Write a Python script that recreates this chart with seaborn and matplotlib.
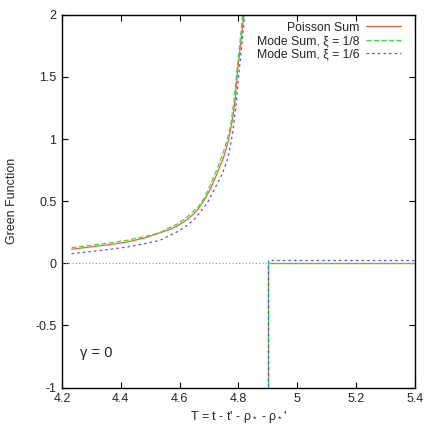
import matplotlib
matplotlib.use("Agg")
import matplotlib.pyplot as plt
import seaborn as sns
import pandas as pd

# ---- data ----
poisson_x = [4.233, 4.30, 4.36, 4.42, 4.48, 4.52, 4.56, 4.59, 4.62, 4.645, 4.664, 4.685, 4.707, 4.73, 4.749, 4.765, 4.777, 4.788, 4.797, 4.808, 4.818, 4.83]
poisson_y = [0.113, 0.133, 0.150, 0.171, 0.203, 0.235, 0.268, 0.298, 0.343, 0.392, 0.44, 0.515, 0.610, 0.74, 0.85, 0.98, 1.12, 1.30, 1.55, 1.78, 2.0, 2.4]

mode8_x = [4.233, 4.30, 4.36, 4.42, 4.48, 4.533, 4.56, 4.59, 4.62, 4.64, 4.664, 4.685, 4.705, 4.727, 4.745, 4.762, 4.774, 4.785, 4.795, 4.805, 4.814, 4.826]
mode8_y = [0.126, 0.146, 0.164, 0.185, 0.215, 0.247, 0.282, 0.314, 0.362, 0.405, 0.458, 0.53, 0.635, 0.76, 0.87, 1.0, 1.12, 1.32, 1.56, 1.78, 2.0, 2.4]

mode6_x = [4.233, 4.30, 4.36, 4.42, 4.48, 4.533, 4.56, 4.59, 4.62, 4.646, 4.664, 4.695, 4.722, 4.745, 4.762, 4.773, 4.782, 4.792, 4.80, 4.811, 4.821, 4.833]
mode6_y = [0.078, 0.095, 0.112, 0.131, 0.158, 0.185, 0.218, 0.252, 0.296, 0.346, 0.395, 0.49, 0.614, 0.72, 0.834, 0.95, 1.084, 1.28, 1.5, 1.75, 2.0, 2.4]

# after the step at T = 4.9
step_x = [4.9, 4.9, 5.4]
poisson_step_y = [-1.5, 0.0, 0.0]
mode8_step_y = [-1.5, 0.0, 0.0]
mode6_step_y = [-1.5, 0.025, 0.025]

labels = ["Poisson Sum", "Mode Sum, ξ = 1/8", "Mode Sum, ξ = 1/6"]
colors = ["#f4603c", "#2ee62e", "#3c5cf4"]
dashes = [None, (4, 2), (2, 2.5)]

sns.set_style("ticks")
plt.rcParams["font.family"] = ["Liberation Sans", "DejaVu Sans"]
plt.rcParams["mathtext.default"] = "regular"
plt.rcParams["xtick.direction"] = "in"
plt.rcParams["ytick.direction"] = "in"

fig = plt.figure(figsize=(4.36, 4.36), dpi=100)
ax = fig.add_axes([0.142, 0.111, 0.810, 0.855])

ax.axhline(0, color="#999999", lw=0.8, ls=(0, (1, 2)), zorder=1)

curves = [(poisson_x, poisson_y, poisson_step_y),
          (mode8_x, mode8_y, mode8_step_y),
          (mode6_x, mode6_y, mode6_step_y)]

for (cx, cy, sy), lab, col, ds in zip(curves, labels, colors, dashes):
    df1 = pd.DataFrame({"T": cx, "G": cy})
    df2 = pd.DataFrame({"T": step_x, "G": sy})
    sns.lineplot(data=df1, x="T", y="G", ax=ax, color=col, lw=0.9,
                 label=lab, sort=False, estimator=None)
    sns.lineplot(data=df2, x="T", y="G", ax=ax, color=col, lw=0.9,
                 sort=False, estimator=None)
    if ds is not None:
        for line in ax.lines[-2:]:
            line.set_dashes(ds)

ax.set_xlim(4.2, 5.4)
ax.set_ylim(-1, 2)
ax.set_xticks([4.2, 4.4, 4.6, 4.8, 5.0, 5.2, 5.4])
ax.set_xticklabels(["4.2", "4.4", "4.6", "4.8", "5", "5.2", "5.4"])
ax.set_yticks([-1, -0.5, 0, 0.5, 1, 1.5, 2])
ax.set_yticklabels(["-1", "-0.5", "0", "0.5", "1", "1.5", "2"])
ax.tick_params(axis="both", which="both", direction="in", top=True, right=True,
               length=4, width=0.8, labelsize=9, color="black", pad=4)
for s in ax.spines.values():
    s.set_color("black")
    s.set_linewidth(1.0)
    s.set_visible(True)

ax.set_xlabel("T = t - t' - ρ$_*$ - ρ$_*$'", fontsize=9, labelpad=3)
ax.set_ylabel("Green Function", fontsize=9, labelpad=12)

ax.text(4.262, -0.72, "γ = 0", fontsize=10.5, ha="left", va="center")

leg = ax.legend(loc="upper right", frameon=False, markerfirst=False, fontsize=8.8,
                handlelength=2.9, handletextpad=0.5, labelspacing=0.12,
                borderaxespad=0.3, bbox_to_anchor=(0.985, 1.005))

fig.savefig("out.png", dpi=100)
